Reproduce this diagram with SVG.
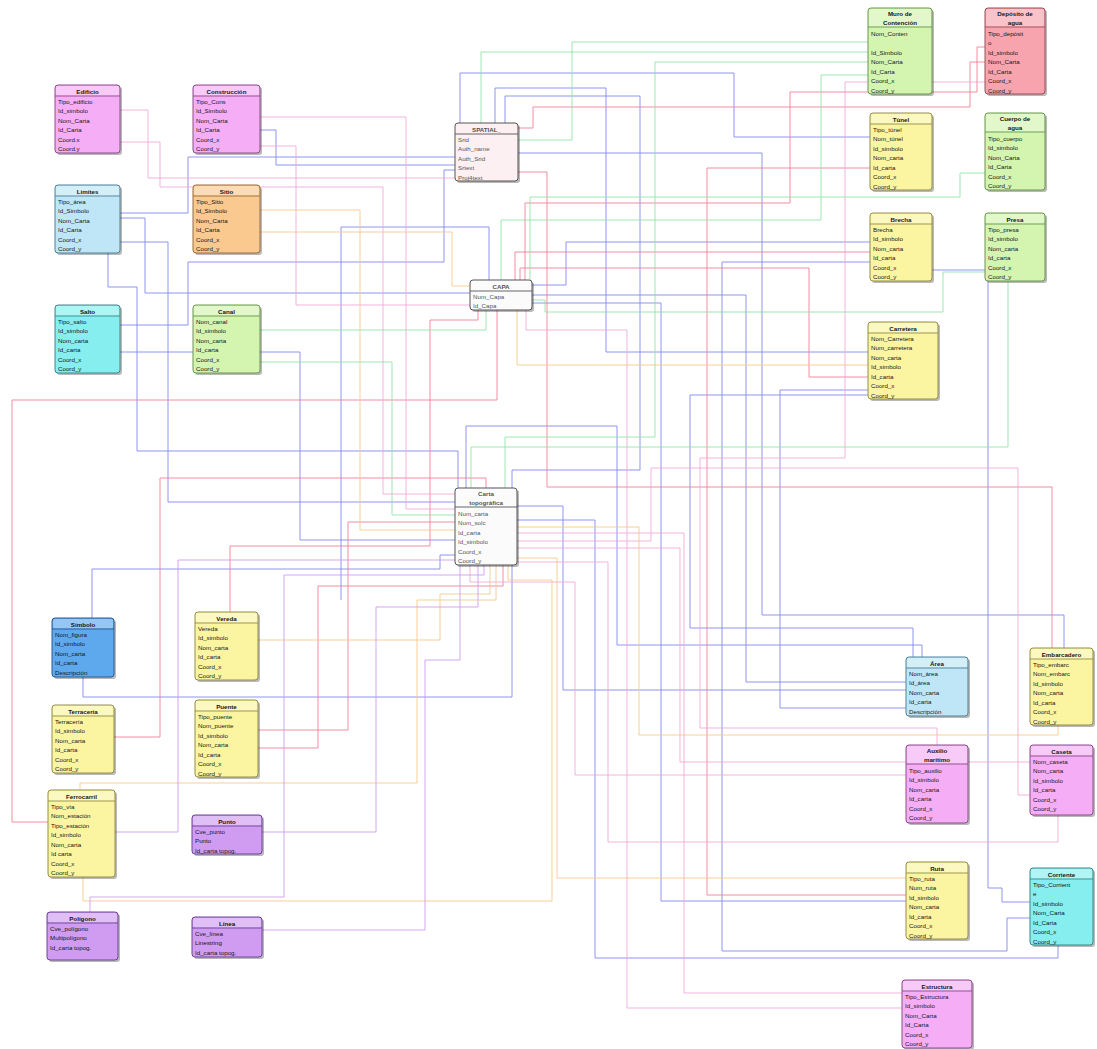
<svg xmlns="http://www.w3.org/2000/svg" width="1097" height="1049" viewBox="0 0 1097 1049">
<defs>
<style>
.c polyline{fill:none;stroke-width:1;opacity:.85}
.b{stroke:#7c84ec}
.r{stroke:#ee7b95}
.g{stroke:#8ee3a6}
.o{stroke:#f7c784}
.p{stroke:#cf98ef}
.k{stroke:#f0a6d6}
.sh{fill:#000;opacity:.28}
.hd{fill:#fff;opacity:.35}
.t{font-family:"Liberation Sans",Arial,sans-serif;font-size:6.2px;fill:#161616}
.tt{text-anchor:middle;font-weight:bold}
.m{stroke-width:1}
.sep{stroke-width:.9}
.pk .m{fill:#f5aef5;stroke:#8b4d8b}.pk .sep{stroke:#8b4d8b}
.lb .m{fill:#bfe6f6;stroke:#4f8199}.lb .sep{stroke:#4f8199}
.or .m{fill:#f9c98f;stroke:#9c6c3c}.or .sep{stroke:#9c6c3c}
.cy .m{fill:#86eeee;stroke:#3a8a8a}.cy .sep{stroke:#3a8a8a}
.gr .m{fill:#d3f5b0;stroke:#6a9650}.gr .sep{stroke:#6a9650}
.ye .m{fill:#fbf5a2;stroke:#948e4a}.ye .sep{stroke:#948e4a}
.bl .m{fill:#5ea8ee;stroke:#2c5a94}.bl .sep{stroke:#2c5a94}
.pu .m{fill:#cf9cf2;stroke:#6a4696}.pu .sep{stroke:#6a4696}
.rd .m{fill:#f8a4ae;stroke:#9c4c56}.rd .sep{stroke:#9c4c56}
.wh .m{fill:#fbfbfb;stroke:#555}.wh .sep{stroke:#555}.wh .t{fill:#555}
.wp .m{fill:#fdf0f2;stroke:#555}.wp .sep{stroke:#555}.wp .t{fill:#555}
</style>
</defs>
<rect width="1097" height="1049" fill="#fff"/>
<g id="connectors" class="c">
<polyline class="b" points="460,123 460,73 734,73 734,137 870,137"/>
<polyline class="b" points="495,123 495,88 606,88 606,352 868,352"/>
<polyline class="b" points="518,153 762,153 762,615 1064,615 1064,648"/>
<polyline class="b" points="120,213 188,213 188,157 455,157"/>
<polyline class="b" points="120,218 145,218 145,293 470,293"/>
<polyline class="b" points="108,253 108,287 137,287 137,451 458,451 458,488"/>
<polyline class="b" points="120,242 168,242 168,502 455,502"/>
<polyline class="b" points="532,295 746,295 746,682 906,682"/>
<polyline class="b" points="517,506 563,506 563,690 906,690"/>
<polyline class="b" points="466,488 466,426 617,426 617,645 922,645 922,657"/>
<polyline class="b" points="83,677 83,697 512,697 512,565"/>
<polyline class="b" points="120,325 188,325 188,262 444,262 444,170 455,170"/>
<polyline class="b" points="120,352 300,352 300,540 455,540"/>
<polyline class="b" points="92,618 92,569 440,569 440,555 455,555"/>
<polyline class="b" points="517,520 595,520 595,958 1058,958 1058,945"/>
<polyline class="b" points="532,303 661,303 661,901 906,901"/>
<polyline class="b" points="870,262 722,262 722,951 1007,951 1007,918 1030,918"/>
<polyline class="b" points="932,270 988,270 988,888 1002,888 1002,902 1030,902"/>
<polyline class="b" points="532,285 566,285 566,242 870,242"/>
<polyline class="b" points="260,130 276,130 276,165 455,165"/>
<polyline class="b" points="341,600 341,227 489,227 489,280"/>
<polyline class="b" points="906,708 780,708 780,390 868,390"/>
<polyline class="b" points="505,123 505,96 640,96 640,470 512,470 512,488"/>
<polyline class="b" points="913,657 913,628 690,628 690,395 868,395"/>
<polyline class="r" points="518,172 547,172 547,487 1052,487 1052,648"/>
<polyline class="r" points="113,737 160,737 160,478 486,478 486,488"/>
<polyline class="r" points="230,612 230,546 430,546 430,320 478,320 478,310"/>
<polyline class="r" points="48,822 12,822 12,400 497,400 497,310"/>
<polyline class="r" points="870,168 707,168 707,895 906,895"/>
<polyline class="r" points="520,280 520,268 809,268 809,377 868,377"/>
<polyline class="r" points="985,47 977,47 977,92 790,92 790,203 525,203 525,280"/>
<polyline class="r" points="518,128 533,128 533,107 970,107 970,62 985,62"/>
<polyline class="r" points="870,252 515,252 515,280"/>
<polyline class="r" points="258,730 348,730 348,522 455,522"/>
<polyline class="r" points="258,748 318,748 318,586 503,586 503,565"/>
<polyline class="k" points="120,110 148,110 148,178 455,178"/>
<polyline class="k" points="120,142 160,142 160,187 383,187 383,494 455,494"/>
<polyline class="k" points="260,117 406,117 406,509 455,509"/>
<polyline class="k" points="260,146 296,146 296,305 470,305"/>
<polyline class="k" points="1030,762 680,762 680,548 517,548"/>
<polyline class="k" points="1058,815 1058,842 608,842 608,562 517,562"/>
<polyline class="k" points="906,775 575,775 575,582 470,582 470,565"/>
<polyline class="k" points="903,993 684,993 684,533 517,533"/>
<polyline class="k" points="903,1008 627,1008 627,330 526,330 526,310"/>
<polyline class="k" points="985,82 845,82 845,458 700,458 700,728 937,728 937,745"/>
<polyline class="k" points="1030,795 1018,795 1018,468 651,468 651,541 517,541"/>
<polyline class="g" points="481,123 481,52 868,52"/>
<polyline class="g" points="868,62 655,62 655,437 505,437 505,488"/>
<polyline class="g" points="1008,281 1008,447 471,447 471,488"/>
<polyline class="g" points="987,173 960,173 960,197 530,197 530,280"/>
<polyline class="g" points="501,280 501,220 821,220 821,75 868,75"/>
<polyline class="g" points="985,272 943,272 943,312 545,312 545,300 532,300"/>
<polyline class="g" points="260,330 486,330 486,310"/>
<polyline class="g" points="260,362 392,362 392,515 455,515"/>
<polyline class="g" points="868,42 572,42 572,140 518,140"/>
<polyline class="o" points="517,527 639,527 639,735 1058,735 1058,725"/>
<polyline class="o" points="517,558 557,558 557,878 906,878"/>
<polyline class="o" points="260,210 360,210 360,530 455,530"/>
<polyline class="o" points="260,232 452,232 452,286 470,286"/>
<polyline class="o" points="258,640 440,640 440,594 490,594 490,565"/>
<polyline class="o" points="80,790 80,783 417,783 417,600 496,600 496,565"/>
<polyline class="o" points="83,877 83,901 552,901 552,580 508,580 508,565"/>
<polyline class="o" points="868,365 517,365 517,310"/>
<polyline class="p" points="90,912 90,897 284,897 284,575 484,575 484,565"/>
<polyline class="p" points="262,832 376,832 376,607 478,607 478,565"/>
<polyline class="p" points="262,930 425,930 425,660 460,660 460,565"/>
<polyline class="p" points="115,832 178,832 178,560 455,560"/>
</g>

<g id="edificio" class="pk" transform="translate(55,85)">
<rect class="sh" x="2" y="2" width="65" height="68" rx="3"/><rect class="m" width="65" height="68" rx="3"/><rect class="hd" x="1" y="1" width="63" height="9.5" rx="2"/><line class="sep" x1="0" y1="11" x2="65" y2="11"/>
<text class="t tt" x="32.5" y="8.5">Edificio</text>
<text class="t" x="3" y="18.5">Tipo_edificio</text><text class="t" x="3" y="28">Id_simbolo</text><text class="t" x="3" y="37.5">Nom_Carta</text><text class="t" x="3" y="47">Id_Carta</text><text class="t" x="3" y="56.5">Coord.x</text><text class="t" x="3" y="66">Coord.y</text>
</g>
<g id="construccion" class="pk" transform="translate(193,85)">
<rect class="sh" x="2" y="2" width="67" height="68" rx="3"/><rect class="m" width="67" height="68" rx="3"/><rect class="hd" x="1" y="1" width="65" height="9.5" rx="2"/><line class="sep" x1="0" y1="11" x2="67" y2="11"/>
<text class="t tt" x="33.5" y="8.5">Construcción</text>
<text class="t" x="3" y="18.5">Tipo_Cons</text><text class="t" x="3" y="28">Id_Simbolo</text><text class="t" x="3" y="37.5">Nom_Carta</text><text class="t" x="3" y="47">Id_Carta</text><text class="t" x="3" y="56.5">Coord_x</text><text class="t" x="3" y="66">Coord_y</text>
</g>
<g id="limites" class="lb" transform="translate(55,185)">
<rect class="sh" x="2" y="2" width="65" height="68" rx="3"/><rect class="m" width="65" height="68" rx="3"/><rect class="hd" x="1" y="1" width="63" height="9.5" rx="2"/><line class="sep" x1="0" y1="11" x2="65" y2="11"/>
<text class="t tt" x="32.5" y="8.5">Limites</text>
<text class="t" x="3" y="18.5">Tipo_área</text><text class="t" x="3" y="28">Id_Simbolo</text><text class="t" x="3" y="37.5">Nom_Carta</text><text class="t" x="3" y="47">Id_Carta</text><text class="t" x="3" y="56.5">Coord_x</text><text class="t" x="3" y="66">Coord_y</text>
</g>
<g id="sitio" class="or" transform="translate(193,185)">
<rect class="sh" x="2" y="2" width="67" height="68" rx="3"/><rect class="m" width="67" height="68" rx="3"/><rect class="hd" x="1" y="1" width="65" height="9.5" rx="2"/><line class="sep" x1="0" y1="11" x2="67" y2="11"/>
<text class="t tt" x="33.5" y="8.5">Sitio</text>
<text class="t" x="3" y="18.5">Tipo_Sitio</text><text class="t" x="3" y="28">Id_Simbolo</text><text class="t" x="3" y="37.5">Nom_Carta</text><text class="t" x="3" y="47">Id_Carta</text><text class="t" x="3" y="56.5">Coord_x</text><text class="t" x="3" y="66">Coord_y</text>
</g>
<g id="salto" class="cy" transform="translate(55,305)">
<rect class="sh" x="2" y="2" width="65" height="68" rx="3"/><rect class="m" width="65" height="68" rx="3"/><rect class="hd" x="1" y="1" width="63" height="9.5" rx="2"/><line class="sep" x1="0" y1="11" x2="65" y2="11"/>
<text class="t tt" x="32.5" y="8.5">Salto</text>
<text class="t" x="3" y="18.5">Tipo_salto</text><text class="t" x="3" y="28">Id_simbolo</text><text class="t" x="3" y="37.5">Nom_carta</text><text class="t" x="3" y="47">Id_carta</text><text class="t" x="3" y="56.5">Coord_x</text><text class="t" x="3" y="66">Coord_y</text>
</g>
<g id="canal" class="gr" transform="translate(193,305)">
<rect class="sh" x="2" y="2" width="67" height="68" rx="3"/><rect class="m" width="67" height="68" rx="3"/><rect class="hd" x="1" y="1" width="65" height="9.5" rx="2"/><line class="sep" x1="0" y1="11" x2="67" y2="11"/>
<text class="t tt" x="33.5" y="8.5">Canal</text>
<text class="t" x="3" y="18.5">Nom_canal</text><text class="t" x="3" y="28">Id_simbolo</text><text class="t" x="3" y="37.5">Nom_carta</text><text class="t" x="3" y="47">Id_carta</text><text class="t" x="3" y="56.5">Coord_x</text><text class="t" x="3" y="66">Coord_y</text>
</g>
<g id="spatial" class="wp" transform="translate(455,123)">
<rect class="sh" x="2" y="2" width="63" height="58" rx="3"/><rect class="m" width="63" height="58" rx="3"/><line class="sep" x1="0" y1="11" x2="63" y2="11"/>
<text class="t tt" x="31.5" y="8.5">SPATIAL_</text>
<text class="t" x="3" y="18.5">Srid</text><text class="t" x="3" y="28">Auth_name</text><text class="t" x="3" y="37.5">Auth_Srid</text><text class="t" x="3" y="47">Srtext</text><text class="t" x="3" y="56.5">Proj4text</text>
</g>
<g id="capa" class="wh" transform="translate(470,280)">
<rect class="sh" x="2" y="2" width="62" height="30" rx="3"/><rect class="m" width="62" height="30" rx="3"/><line class="sep" x1="0" y1="11" x2="62" y2="11"/>
<text class="t tt" x="31" y="8.5">CAPA</text>
<text class="t" x="3" y="18.5">Num_Capa</text><text class="t" x="3" y="28">Id_Capa</text>
</g>
<g id="carta" class="wh" transform="translate(455,488)">
<rect class="sh" x="2" y="2" width="62" height="77" rx="3"/><rect class="m" width="62" height="77" rx="3"/><line class="sep" x1="0" y1="19" x2="62" y2="19"/>
<text class="t tt" x="31" y="8">Carta</text><text class="t tt" x="31" y="16.5">topográfica</text>
<text class="t" x="3" y="27.5">Num_carta</text><text class="t" x="3" y="37">Num_solc</text><text class="t" x="3" y="46.5">Id_carta</text><text class="t" x="3" y="56">Id_simbolo</text><text class="t" x="3" y="65.5">Coord_x</text><text class="t" x="3" y="75">Coord_y</text>
</g>
<g id="muro" class="gr" transform="translate(868,8)">
<rect class="sh" x="2" y="2" width="64" height="86" rx="3"/><rect class="m" width="64" height="86" rx="3"/><rect class="hd" x="1" y="1" width="62" height="17.5" rx="2"/><line class="sep" x1="0" y1="19" x2="64" y2="19"/>
<text class="t tt" x="32" y="8">Muro de</text><text class="t tt" x="32" y="16.5">Contención</text>
<text class="t" x="3" y="27.5">Nom_Conten</text><text class="t" x="3" y="46.5">Id_Simbolo</text><text class="t" x="3" y="56">Nom_Carta</text><text class="t" x="3" y="65.5">Id_Carta</text><text class="t" x="3" y="75">Coord_x</text><text class="t" x="3" y="84.5">Coord_y</text>
</g>
<g id="deposito" class="rd" transform="translate(985,8)">
<rect class="sh" x="2" y="2" width="60" height="86" rx="3"/><rect class="m" width="60" height="86" rx="3"/><rect class="hd" x="1" y="1" width="58" height="17.5" rx="2"/><line class="sep" x1="0" y1="19" x2="60" y2="19"/>
<text class="t tt" x="30" y="8">Depósito de</text><text class="t tt" x="30" y="16.5">agua</text>
<text class="t" x="3" y="27.5">Tipo_depósit</text><text class="t" x="3" y="37">o</text><text class="t" x="3" y="46.5">Id_simbolo</text><text class="t" x="3" y="56">Nom_Carta</text><text class="t" x="3" y="65.5">Id_Carta</text><text class="t" x="3" y="75">Coord_x</text><text class="t" x="3" y="84.5">Coord_y</text>
</g>
<g id="tunel" class="ye" transform="translate(870,113)">
<rect class="sh" x="2" y="2" width="62" height="77" rx="3"/><rect class="m" width="62" height="77" rx="3"/><rect class="hd" x="1" y="1" width="60" height="9.5" rx="2"/><line class="sep" x1="0" y1="11" x2="62" y2="11"/>
<text class="t tt" x="31" y="8.5">Túnel</text>
<text class="t" x="3" y="18.5">Tipo_túnel</text><text class="t" x="3" y="28">Nom_túnel</text><text class="t" x="3" y="37.5">Id_simbolo</text><text class="t" x="3" y="47">Nom_carta</text><text class="t" x="3" y="56.5">Id_carta</text><text class="t" x="3" y="66">Coord_x</text><text class="t" x="3" y="75.5">Coord_y</text>
</g>
<g id="cuerpo" class="gr" transform="translate(985,113)">
<rect class="sh" x="2" y="2" width="60" height="77" rx="3"/><rect class="m" width="60" height="77" rx="3"/><rect class="hd" x="1" y="1" width="58" height="17.5" rx="2"/><line class="sep" x1="0" y1="19" x2="60" y2="19"/>
<text class="t tt" x="30" y="8">Cuerpo de</text><text class="t tt" x="30" y="16.5">agua</text>
<text class="t" x="3" y="27.5">Tipo_cuerpo</text><text class="t" x="3" y="37">Id_simbolo</text><text class="t" x="3" y="46.5">Nom_Carta</text><text class="t" x="3" y="56">Id_Carta</text><text class="t" x="3" y="65.5">Coord_x</text><text class="t" x="3" y="75">Coord_y</text>
</g>
<g id="brecha" class="ye" transform="translate(870,213)">
<rect class="sh" x="2" y="2" width="62" height="68" rx="3"/><rect class="m" width="62" height="68" rx="3"/><rect class="hd" x="1" y="1" width="60" height="9.5" rx="2"/><line class="sep" x1="0" y1="11" x2="62" y2="11"/>
<text class="t tt" x="31" y="8.5">Brecha</text>
<text class="t" x="3" y="18.5">Brecha</text><text class="t" x="3" y="28">Id_simbolo</text><text class="t" x="3" y="37.5">Nom_carta</text><text class="t" x="3" y="47">Id_carta</text><text class="t" x="3" y="56.5">Coord_x</text><text class="t" x="3" y="66">Coord_y</text>
</g>
<g id="presa" class="gr" transform="translate(985,213)">
<rect class="sh" x="2" y="2" width="60" height="68" rx="3"/><rect class="m" width="60" height="68" rx="3"/><rect class="hd" x="1" y="1" width="58" height="9.5" rx="2"/><line class="sep" x1="0" y1="11" x2="60" y2="11"/>
<text class="t tt" x="30" y="8.5">Presa</text>
<text class="t" x="3" y="18.5">Tipo_presa</text><text class="t" x="3" y="28">Id_simbolo</text><text class="t" x="3" y="37.5">Nom_carta</text><text class="t" x="3" y="47">Id_carta</text><text class="t" x="3" y="56.5">Coord_x</text><text class="t" x="3" y="66">Coord_y</text>
</g>
<g id="carretera" class="ye" transform="translate(868,322)">
<rect class="sh" x="2" y="2" width="70" height="77" rx="3"/><rect class="m" width="70" height="77" rx="3"/><rect class="hd" x="1" y="1" width="68" height="9.5" rx="2"/><line class="sep" x1="0" y1="11" x2="70" y2="11"/>
<text class="t tt" x="35" y="8.5">Carretera</text>
<text class="t" x="3" y="18.5">Nom_Carretera</text><text class="t" x="3" y="28">Num_carretera</text><text class="t" x="3" y="37.5">Nom_carta</text><text class="t" x="3" y="47">Id_simbolo</text><text class="t" x="3" y="56.5">Id_carta</text><text class="t" x="3" y="66">Coord_x</text><text class="t" x="3" y="75.5">Coord_y</text>
</g>
<g id="simbolo" class="bl" transform="translate(52,618)">
<rect class="sh" x="2" y="2" width="62" height="59" rx="3"/><rect class="m" width="62" height="59" rx="3"/><rect class="hd" x="1" y="1" width="60" height="9.5" rx="2"/><line class="sep" x1="0" y1="11" x2="62" y2="11"/>
<text class="t tt" x="31" y="8.5">Símbolo</text>
<text class="t" x="3" y="18.5">Nom_figura</text><text class="t" x="3" y="28">Id_simbolo</text><text class="t" x="3" y="37.5">Nom_carta</text><text class="t" x="3" y="47">Id_carta</text><text class="t" x="3" y="56.5">Descripción</text>
</g>
<g id="vereda" class="ye" transform="translate(195,612)">
<rect class="sh" x="2" y="2" width="63" height="68" rx="3"/><rect class="m" width="63" height="68" rx="3"/><rect class="hd" x="1" y="1" width="61" height="9.5" rx="2"/><line class="sep" x1="0" y1="11" x2="63" y2="11"/>
<text class="t tt" x="31.5" y="8.5">Vereda</text>
<text class="t" x="3" y="18.5">Vereda</text><text class="t" x="3" y="28">Id_simbolo</text><text class="t" x="3" y="37.5">Nom_carta</text><text class="t" x="3" y="47">Id_carta</text><text class="t" x="3" y="56.5">Coord_x</text><text class="t" x="3" y="66">Coord_y</text>
</g>
<g id="terraceria" class="ye" transform="translate(52,705)">
<rect class="sh" x="2" y="2" width="62" height="68" rx="3"/><rect class="m" width="62" height="68" rx="3"/><rect class="hd" x="1" y="1" width="60" height="9.5" rx="2"/><line class="sep" x1="0" y1="11" x2="62" y2="11"/>
<text class="t tt" x="31" y="8.5">Terracería</text>
<text class="t" x="3" y="18.5">Terracería</text><text class="t" x="3" y="28">Id_simbolo</text><text class="t" x="3" y="37.5">Nom_carta</text><text class="t" x="3" y="47">Id_carta</text><text class="t" x="3" y="56.5">Coord_x</text><text class="t" x="3" y="66">Coord_y</text>
</g>
<g id="puente" class="ye" transform="translate(195,700)">
<rect class="sh" x="2" y="2" width="63" height="77" rx="3"/><rect class="m" width="63" height="77" rx="3"/><rect class="hd" x="1" y="1" width="61" height="9.5" rx="2"/><line class="sep" x1="0" y1="11" x2="63" y2="11"/>
<text class="t tt" x="31.5" y="8.5">Puente</text>
<text class="t" x="3" y="18.5">Tipo_puente</text><text class="t" x="3" y="28">Nom_puente</text><text class="t" x="3" y="37.5">Id_simbolo</text><text class="t" x="3" y="47">Nom_carta</text><text class="t" x="3" y="56.5">Id_carta</text><text class="t" x="3" y="66">Coord_x</text><text class="t" x="3" y="75.5">Coord_y</text>
</g>
<g id="ferrocarril" class="ye" transform="translate(48,790)">
<rect class="sh" x="2" y="2" width="67" height="87" rx="3"/><rect class="m" width="67" height="87" rx="3"/><rect class="hd" x="1" y="1" width="65" height="9.5" rx="2"/><line class="sep" x1="0" y1="11" x2="67" y2="11"/>
<text class="t tt" x="33.5" y="8.5">Ferrocarril</text>
<text class="t" x="3" y="18.5">Tipo_vía</text><text class="t" x="3" y="28">Nom_estación</text><text class="t" x="3" y="37.5">Tipo_estación</text><text class="t" x="3" y="47">Id_simbolo</text><text class="t" x="3" y="56.5">Nom_carta</text><text class="t" x="3" y="66">Id carta</text><text class="t" x="3" y="75.5">Coord_x</text><text class="t" x="3" y="85">Coord_y</text>
</g>
<g id="punto" class="pu" transform="translate(192,815)">
<rect class="sh" x="2" y="2" width="70" height="39" rx="3"/><rect class="m" width="70" height="39" rx="3"/><rect class="hd" x="1" y="1" width="68" height="9.5" rx="2"/><line class="sep" x1="0" y1="11" x2="70" y2="11"/>
<text class="t tt" x="35" y="8.5">Punto</text>
<text class="t" x="3" y="18.5">Cve_punto</text><text class="t" x="3" y="28">Punto</text><text class="t" x="3" y="37.5">Id_carta topog.</text>
</g>
<g id="poligono" class="pu" transform="translate(47,912)">
<rect class="sh" x="2" y="2" width="71" height="48" rx="3"/><rect class="m" width="71" height="48" rx="3"/><rect class="hd" x="1" y="1" width="69" height="9.5" rx="2"/><line class="sep" x1="0" y1="11" x2="71" y2="11"/>
<text class="t tt" x="35.5" y="8.5">Polígono</text>
<text class="t" x="3" y="18.5">Cve_polígono</text><text class="t" x="3" y="28">Multipolígono</text><text class="t" x="3" y="37.5">Id_carta topog.</text>
</g>
<g id="linea" class="pu" transform="translate(192,917)">
<rect class="sh" x="2" y="2" width="70" height="40" rx="3"/><rect class="m" width="70" height="40" rx="3"/><rect class="hd" x="1" y="1" width="68" height="9.5" rx="2"/><line class="sep" x1="0" y1="11" x2="70" y2="11"/>
<text class="t tt" x="35" y="8.5">Línea</text>
<text class="t" x="3" y="18.5">Cve_línea</text><text class="t" x="3" y="28">Linestring</text><text class="t" x="3" y="37.5">Id_carta topog.</text>
</g>
<g id="area" class="lb" transform="translate(906,657)">
<rect class="sh" x="2" y="2" width="62" height="59" rx="3"/><rect class="m" width="62" height="59" rx="3"/><rect class="hd" x="1" y="1" width="60" height="9.5" rx="2"/><line class="sep" x1="0" y1="11" x2="62" y2="11"/>
<text class="t tt" x="31" y="8.5">Área</text>
<text class="t" x="3" y="18.5">Nom_área</text><text class="t" x="3" y="28">Id_área</text><text class="t" x="3" y="37.5">Nom_carta</text><text class="t" x="3" y="47">Id_carta</text><text class="t" x="3" y="56.5">Descripción</text>
</g>
<g id="embarcadero" class="ye" transform="translate(1030,648)">
<rect class="sh" x="2" y="2" width="63" height="77" rx="3"/><rect class="m" width="63" height="77" rx="3"/><rect class="hd" x="1" y="1" width="61" height="9.5" rx="2"/><line class="sep" x1="0" y1="11" x2="63" y2="11"/>
<text class="t tt" x="31.5" y="8.5">Embarcadero</text>
<text class="t" x="3" y="18.5">Tipo_embarc</text><text class="t" x="3" y="28">Nom_embarc</text><text class="t" x="3" y="37.5">Id_simbolo</text><text class="t" x="3" y="47">Nom_carta</text><text class="t" x="3" y="56.5">Id_carta</text><text class="t" x="3" y="66">Coord_x</text><text class="t" x="3" y="75.5">Coord_y</text>
</g>
<g id="auxilio" class="pk" transform="translate(906,745)">
<rect class="sh" x="2" y="2" width="62" height="78" rx="3"/><rect class="m" width="62" height="78" rx="3"/><rect class="hd" x="1" y="1" width="60" height="17.5" rx="2"/><line class="sep" x1="0" y1="19" x2="62" y2="19"/>
<text class="t tt" x="31" y="8">Auxilio</text><text class="t tt" x="31" y="16.5">marítimo</text>
<text class="t" x="3" y="27.5">Tipo_auxilio</text><text class="t" x="3" y="37">Id_simbolo</text><text class="t" x="3" y="46.5">Nom_carta</text><text class="t" x="3" y="56">Id_carta</text><text class="t" x="3" y="65.5">Coord_x</text><text class="t" x="3" y="75">Coord_y</text>
</g>
<g id="caseta" class="pk" transform="translate(1030,745)">
<rect class="sh" x="2" y="2" width="63" height="70" rx="3"/><rect class="m" width="63" height="70" rx="3"/><rect class="hd" x="1" y="1" width="61" height="9.5" rx="2"/><line class="sep" x1="0" y1="11" x2="63" y2="11"/>
<text class="t tt" x="31.5" y="8.5">Caseta</text>
<text class="t" x="3" y="18.5">Nom_caseta</text><text class="t" x="3" y="28">Nom_carta</text><text class="t" x="3" y="37.5">Id_simbolo</text><text class="t" x="3" y="47">Id_carta</text><text class="t" x="3" y="56.5">Coord_x</text><text class="t" x="3" y="66">Coord_y</text>
</g>
<g id="ruta" class="ye" transform="translate(906,862)">
<rect class="sh" x="2" y="2" width="62" height="77" rx="3"/><rect class="m" width="62" height="77" rx="3"/><rect class="hd" x="1" y="1" width="60" height="9.5" rx="2"/><line class="sep" x1="0" y1="11" x2="62" y2="11"/>
<text class="t tt" x="31" y="8.5">Ruta</text>
<text class="t" x="3" y="18.5">Tipo_ruta</text><text class="t" x="3" y="28">Num_ruta</text><text class="t" x="3" y="37.5">Id_simbolo</text><text class="t" x="3" y="47">Nom_carta</text><text class="t" x="3" y="56.5">Id_carta</text><text class="t" x="3" y="66">Coord_x</text><text class="t" x="3" y="75.5">Coord_y</text>
</g>
<g id="corriente" class="cy" transform="translate(1030,868)">
<rect class="sh" x="2" y="2" width="63" height="77" rx="3"/><rect class="m" width="63" height="77" rx="3"/><rect class="hd" x="1" y="1" width="61" height="9.5" rx="2"/><line class="sep" x1="0" y1="11" x2="63" y2="11"/>
<text class="t tt" x="31.5" y="8.5">Corriente</text>
<text class="t" x="3" y="18.5">Tipo_Corrient</text><text class="t" x="3" y="28">e</text><text class="t" x="3" y="37.5">Id_simbolo</text><text class="t" x="3" y="47">Nom_Carta</text><text class="t" x="3" y="56.5">Id_Carta</text><text class="t" x="3" y="66">Coord_x</text><text class="t" x="3" y="75.5">Coord_y</text>
</g>
<g id="estructura" class="pk" transform="translate(902,980)">
<rect class="sh" x="2" y="2" width="70" height="68" rx="3"/><rect class="m" width="70" height="68" rx="3"/><rect class="hd" x="1" y="1" width="68" height="9.5" rx="2"/><line class="sep" x1="0" y1="11" x2="70" y2="11"/>
<text class="t tt" x="35" y="8.5">Estructura</text>
<text class="t" x="3" y="18.5">Tipo_Estructura</text><text class="t" x="3" y="28">Id_simbolo</text><text class="t" x="3" y="37.5">Nom_Carta</text><text class="t" x="3" y="47">Id_Carta</text><text class="t" x="3" y="56.5">Coord_x</text><text class="t" x="3" y="66">Coord_y</text>
</g>
</svg>
